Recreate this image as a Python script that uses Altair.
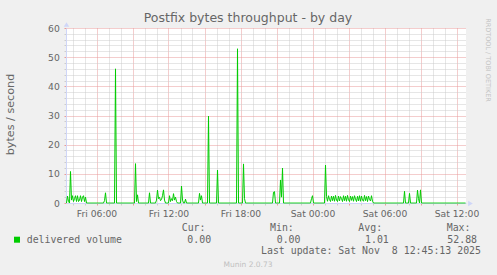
import altair as alt
import pandas as pd

title_text = "Postfix bytes throughput - by day"
y_title = "bytes / second"
series_name = "delivered volume"
legend_heads = ["Cur:", "Min:", "Avg:", "Max:"]
legend_vals = ["0.00", "0.00", "1.01", "52.88"]
last_update = "Last update: Sat Nov \u00a08 12:45:13 2025"
footer = "Munin 2.0.73"
watermark = "RRDTOOL / TOBI OETIKER"

# 5-minute samples (all others are 0)
spike_times = [
    "2025-11-07 03:35", "2025-11-07 03:40", "2025-11-07 03:50", "2025-11-07 03:55",
    "2025-11-07 04:00", "2025-11-07 04:05", "2025-11-07 04:10", "2025-11-07 04:15",
    "2025-11-07 04:20", "2025-11-07 04:25", "2025-11-07 04:30", "2025-11-07 04:35",
    "2025-11-07 04:40", "2025-11-07 04:45", "2025-11-07 04:50", "2025-11-07 04:55",
    "2025-11-07 05:00", "2025-11-07 05:05", "2025-11-07 06:40", "2025-11-07 06:45",
    "2025-11-07 07:35", "2025-11-07 09:15", "2025-11-07 09:20", "2025-11-07 09:25",
    "2025-11-07 10:25", "2025-11-07 11:00", "2025-11-07 11:05", "2025-11-07 11:10",
    "2025-11-07 11:15", "2025-11-07 11:20", "2025-11-07 11:25", "2025-11-07 11:30",
    "2025-11-07 11:35", "2025-11-07 11:40", "2025-11-07 12:05", "2025-11-07 12:10",
    "2025-11-07 12:15", "2025-11-07 12:20", "2025-11-07 12:25", "2025-11-07 12:30",
    "2025-11-07 12:35", "2025-11-07 12:40", "2025-11-07 13:05", "2025-11-07 13:10",
    "2025-11-07 13:25", "2025-11-07 14:35", "2025-11-07 14:40", "2025-11-07 14:45",
    "2025-11-07 15:20", "2025-11-07 16:05", "2025-11-07 17:45", "2025-11-07 18:15",
    "2025-11-07 18:20", "2025-11-07 20:45", "2025-11-07 20:50", "2025-11-07 21:20",
    "2025-11-07 21:25", "2025-11-07 21:30", "2025-11-07 23:55", "2025-11-08 00:00",
    "2025-11-08 01:05", "2025-11-08 07:40", "2025-11-08 08:05", "2025-11-08 08:45",
    "2025-11-08 08:50", "2025-11-08 09:00",
]
spike_values = [
    2.4, 0.5, 10.8, 1.0,
    2.5, 0.5, 1.5, 2.5,
    0.5, 2.5, 0.5, 1.0,
    2.5, 0.5, 2.0, 2.5,
    0.5, 2.0, 0.8, 3.5,
    46.0, 13.5, 0.5, 2.8,
    3.5, 1.0, 4.4, 1.5,
    2.0, 0.8, 1.2, 2.5,
    4.5, 1.0, 2.5, 0.5,
    1.5, 0.8, 3.2, 1.0,
    2.0, 0.5, 5.8, 1.0,
    1.3, 3.3, 1.0, 2.5,
    29.8, 11.3, 52.88, 13.4,
    1.5, 3.7, 3.9, 7.9,
    2.0, 12.0, 1.5, 2.5,
    13.0, 4.0, 3.3, 4.4,
    1.5, 4.5,
]
burst_start = "2025-11-08 01:10"
burst_values = [
    2.2, 0.6, 2.5, 1.2, 0.5, 2.4, 0.8, 2.3, 0.6, 2.6, 1.0, 0.5, 2.4, 0.7, 2.2, 1.5,
    0.5, 2.5, 0.8, 2.3, 0.6, 2.6, 1.1, 0.5, 2.4, 0.9, 2.2, 0.6, 2.5, 1.4, 0.5, 2.3,
    0.7, 2.5, 0.6, 2.4, 1.0, 0.6, 2.6, 0.8, 2.2, 0.5, 2.4, 1.2, 0.7, 2.5, 0.6,
]

series_start = "2025-11-07 03:30"
n_samples = 400

grid = pd.date_range(series_start, periods=n_samples, freq="5min")
vals = pd.Series(0.0, index=grid)
for t, v in zip(spike_times, spike_values):
    vals[pd.Timestamp(t)] = v
for i, v in enumerate(burst_values):
    vals[pd.Timestamp(burst_start) + pd.Timedelta(minutes=5 * i)] = v
df = pd.DataFrame({"time": grid, "value": vals.values})

hour_ticks = [
    alt.DateTime(year=t.year, month=t.month, date=t.day, hours=t.hour)
    for t in pd.date_range("2025-11-07 04:00", "2025-11-08 12:00", freq="h")
]
y_ticks = list(range(0, 61, 2))

FONT = "DejaVu Sans"
MONO = "DejaVu Sans Mono"
TXT = "#666666"
GREEN = "#00CC00"
AXIS = "#CFD6F8"
MINOR = "#cccccc"
MAJOR = "#e89a9a"

x_enc = alt.X(
    "time:T",
    scale=alt.Scale(domain=[
        alt.DateTime(year=2025, month=11, date=7, hours=3, minutes=27, seconds=30),
        alt.DateTime(year=2025, month=11, date=8, hours=12, minutes=47, seconds=30),
    ]),
    axis=alt.Axis(
        values=hour_ticks,
        labelExpr="hours(datum.value) % 6 == 0 ? timeFormat(datum.value, '%a %H:%M') : ''",
        labelOverlap=False,
        labelFlush=False,
        labelFont=FONT,
        labelFontSize=9.2,
        labelColor=TXT,
        labelBaseline="alphabetic",
        labelPadding=11.5,
        tickSize=2,
        tickColor={"condition": {"test": "hours(datum.value) % 3 == 0", "value": MAJOR}, "value": MINOR},
        gridColor={"condition": {"test": "hours(datum.value) % 3 == 0", "value": MAJOR}, "value": MINOR},
        gridDash=[1, 1],
        domainColor=AXIS,
        title=None,
    ),
)
y_enc = alt.Y(
    "value:Q",
    scale=alt.Scale(domain=[0, 60], nice=False, zero=True),
    axis=alt.Axis(
        values=y_ticks,
        labelExpr="datum.value % 10 == 0 ? datum.label : ''",
        labelOverlap=False,
        labelFlush=False,
        labelFont=FONT,
        labelFontSize=9.2,
        labelColor=TXT,
        labelPadding=4.7,
        tickSize=2,
        tickColor={"condition": {"test": "datum.value % 10 == 0", "value": MAJOR}, "value": MINOR},
        gridColor={"condition": {"test": "datum.value % 10 == 0", "value": MAJOR}, "value": MINOR},
        gridDash=[1, 1],
        domainColor=AXIS,
        title=y_title,
        titleFont=FONT,
        titleFontSize=11.2,
        titleFontWeight="normal",
        titleColor=TXT,
        titleAngle=270,
        titleAlign="center",
        titleBaseline="middle",
        titleX=-56,
        titleY=86,
    ),
)

line = alt.Chart(df).mark_line(color=GREEN, strokeWidth=1, interpolate="linear").encode(x=x_enc, y=y_enc)


def txt(text, x, y, size, font=FONT, color=TXT, align="left", baseline="alphabetic", angle=0):
    mk = dict(font=font, fontSize=size, color=color, align=align, baseline=baseline)
    if angle:
        mk["angle"] = angle
    return alt.Chart(pd.DataFrame({"t": [text]})).mark_text(**mk).encode(
        x=alt.value(x), y=alt.value(y), text="t:N"
    )


layers = [line]
layers.append(txt(title_text, 182, -6, 12.5, align="center"))
layers.append(txt(watermark, 421.5, 32, 6.5, color="#c4c4c4", align="center", baseline="middle", angle=90))

# axis arrows
arrow_df = pd.DataFrame({"a": [1]})
layers.append(alt.Chart(arrow_df).mark_point(shape="triangle-up", filled=True, size=30, color=AXIS, opacity=1).encode(
    x=alt.value(0.5), y=alt.value(-3.5)))
layers.append(alt.Chart(arrow_df).mark_point(shape="triangle-right", filled=True, size=30, color=AXIS, opacity=1).encode(
    x=alt.value(404.5), y=alt.value(175.5)))

# legend
layers.append(alt.Chart(arrow_df).mark_square(size=36, color=GREEN, opacity=1).encode(
    x=alt.value(-49), y=alt.value(211.7)))
layers.append(txt(series_name, -39.3, 215.3, 9.9, font=MONO))
head_x = [115.7, 204.0, 292.3, 380.7]
val_x = [121.3, 210.7, 299.0, 381.3]
for h, hx in zip(legend_heads, head_x):
    layers.append(txt(h, hx, 203, 9.9, font=MONO))
for v, vx in zip(legend_vals, val_x):
    layers.append(txt(v, vx, 215.3, 9.9, font=MONO))
layers.append(txt(last_update, 195, 225.8, 9.9, font=MONO))
layers.append(txt(footer, 182, 238.7, 7.5, color="#c0c0c0", align="center"))

chart = alt.layer(*layers).properties(
    width=400,
    height=175,
    padding={"left": 66, "top": 28, "right": 31, "bottom": 72},
    autosize=alt.AutoSizeParams(type="none"),
    background="#F0F0F0",
).configure_view(fill="white", strokeWidth=0)

chart.save("out.html", embed_options={"renderer": "svg", "actions": False})
